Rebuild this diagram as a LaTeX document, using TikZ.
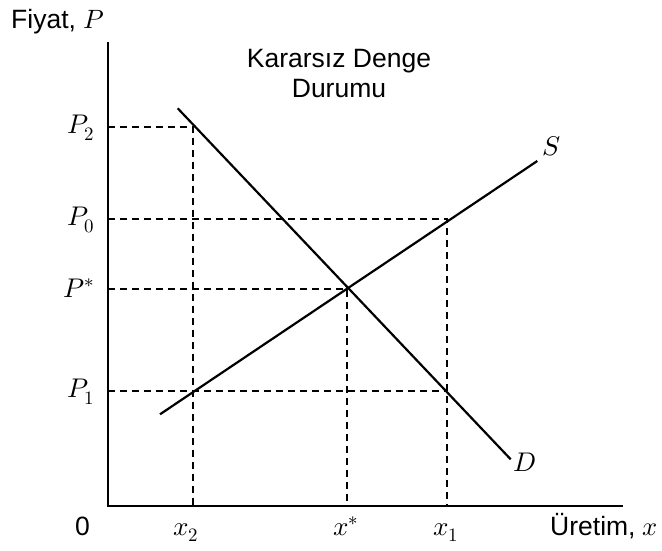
\documentclass[tikz,border=0pt]{standalone}
\usepackage{fontspec}
\usepackage{unicode-math}
\setmainfont{Liberation Sans}
\setmathfont{Latin Modern Math}
\begin{document}
\begin{tikzpicture}[x=1pt,y=-1pt,
  axis/.style={line width=2.4pt},
  curve/.style={line width=2.2pt},
  guide/.style={line width=2pt,dash pattern=on 7pt off 5pt},
  lbl/.style={font=\fontsize{26.5}{30}\selectfont,inner sep=0pt},
  mlbl/.style={font=\fontsize{27}{30}\selectfont,inner sep=0pt}]
\useasboundingbox (0,0) rectangle (662,550);
% axes
\coordinate (top) at (108,42);
\coordinate (O) at (108,506);
\coordinate (right) at (623,506);
\draw[axis] (top) -- (O) -- (right);
% key points
\coordinate (E) at (347,289);
\coordinate (yP2) at (108,127);
\coordinate (yP0) at (108,219);
\coordinate (yPs) at (108,289);
\coordinate (yP1) at (108,391);
\coordinate (A2) at (193,127);
\coordinate (A1) at (193,391);
\coordinate (B0) at (447,219);
\coordinate (B1) at (447,391);
\coordinate (bx2) at (193,506);
\coordinate (bxs) at (347,506);
\coordinate (bx1) at (447,506);
% dashed guides
\draw[guide] (yP2) -- (A2) -- (bx2);
\draw[guide] (yP0) -- (B0) -- (bx1);
\draw[guide] (yPs) -- (E) -- (bxs);
\draw[guide] (yP1) -- (B1);
% curves
\coordinate (D0) at (177.7,108.3);
\coordinate (D1) at (510.7,459.3);
\coordinate (S0) at (160,414.3);
\coordinate (S1) at (537.3,161);
\draw[curve] (D0) -- (D1);
\draw[curve] (S0) -- (S1);
% labels
\node[lbl,anchor=base west] (fiyat) at (11,28) {Fiyat, $P$};
\node[lbl,anchor=base west] (uretim) at (550,535) {Üretim, $x$};
\node[lbl,anchor=base] (zero) at (82.5,535) {0};
\node[lbl,align=center,anchor=base] (title) at (339,97) {Kararsız Denge\\Durumu};
\node[mlbl,anchor=east] (lP2) at (95,128) {$P_2$};
\node[mlbl,anchor=east] (lP0) at (95,220) {$P_0$};
\node[mlbl,anchor=east] (lPs) at (95,288) {$P^*$};
\node[mlbl,anchor=east] (lP1) at (95,392) {$P_1$};
\node[mlbl,anchor=base] (lx2) at (186,535) {$x_2$};
\node[mlbl,anchor=base] (lxs) at (346,535) {$x^*$};
\node[mlbl,anchor=base] (lx1) at (446,535) {$x_1$};
\node[mlbl] (lS) at (552,146) {$S$};
\node[mlbl] (lD) at (525,462) {$D$};
\end{tikzpicture}
\end{document}
